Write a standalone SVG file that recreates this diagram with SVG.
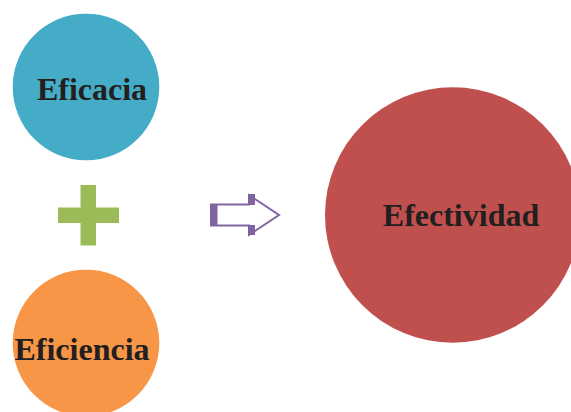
<svg xmlns="http://www.w3.org/2000/svg" width="571" height="412" viewBox="0 0 571 412">
  <style>
    .label { font-family: "Liberation Serif", "Times New Roman", serif; font-weight: bold; fill: #231F20; text-anchor: middle; }
  </style>
  <rect width="571" height="412" fill="#ffffff"/>

  <g id="eficacia">
    <circle cx="86" cy="87" r="73.3" fill="#45ACC7"/>
    <text class="label" x="92" y="100" font-size="32">Eficacia</text>
  </g>

  <g id="plus">
    <rect x="80.5" y="185" width="15.5" height="60.5" fill="#9BBB59"/>
    <rect x="58" y="207.5" width="61" height="15.5" fill="#9BBB59"/>
  </g>

  <g id="eficiencia">
    <circle cx="86" cy="343" r="73.3" fill="#F79646"/>
    <text class="label" x="82" y="360" font-size="32">Eficiencia</text>
  </g>

  <g id="connectors">
    <g id="arrow">
      <path d="M211 204.5 H249 V195 L279 215 L249 235 V225.5 H211 Z" fill="#ffffff" stroke="#8064A2" stroke-width="2" stroke-linejoin="miter"/>
      <rect x="210" y="204" width="7.5" height="22" fill="#8064A2"/>
      <rect x="248" y="194" width="7" height="11" fill="#8064A2"/>
      <rect x="248" y="225" width="7" height="10" fill="#8064A2"/>
    </g>
  </g>

  <g id="efectividad">
    <circle cx="452.7" cy="215" r="127.7" fill="#C0504D"/>
    <text class="label" x="461" y="225.5" font-size="32">Efectividad</text>
  </g>
</svg>
